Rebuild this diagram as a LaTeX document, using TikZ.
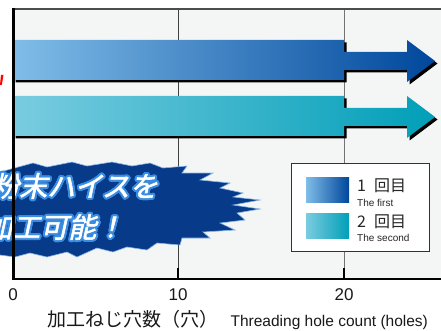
\documentclass[tikz,border=0pt]{standalone}
\usepackage{fontspec}
\setmainfont{Liberation Sans}
\newfontfamily\jpfont{Noto Sans CJK JP}
\newfontfamily\jpboldit[FakeBold=2,FakeSlant=0.22]{Noto Sans CJK JP}
\usepackage[copies]{contour}
\contourlength{2pt}
\contournumber{24}
\usepackage{tikz}
\usetikzlibrary{positioning}
\usepackage{color}

\definecolor{plotbg}{HTML}{F4F6F6}
\definecolor{firstL}{HTML}{80BDE8}
\definecolor{firstM}{HTML}{3F82C4}
\definecolor{firstR}{HTML}{00479C}
\definecolor{secondL}{HTML}{7ACCE0}
\definecolor{secondM}{HTML}{00B6CE}
\definecolor{secondR}{HTML}{009FB8}
\definecolor{burstfill}{HTML}{073A88}
\definecolor{burstrim}{HTML}{3A8CE0}

\begin{document}
\begin{tikzpicture}[x=1pt, y=-1pt,
    gridline/.style={black!75, line width=0.8pt},
    frameline/.style={black, line width=2.2pt},
    tickmark/.style={black, line width=1.6pt},
    numlabel/.style={font=\fontsize{17}{17}\selectfont, text=black!90, inner sep=0pt},
    legendbox/.style={draw=black!80, fill=white, line width=0.8pt, minimum width=138pt, minimum height=88pt, inner sep=0pt},
    legendswatch/.style={minimum width=43pt, minimum height=25pt, inner sep=0pt},
    legendtext/.style={font=\jpfont\fontsize{16}{16}\selectfont, inner sep=0pt, anchor=west, text=black!85},
    legendsub/.style={font=\fontsize{10}{10}\selectfont, inner sep=0pt, anchor=west, text=black!85},
    bursttext/.style={font=\jpboldit\fontsize{28}{28}\selectfont, text=white, inner sep=0pt, anchor=west}]
  \useasboundingbox[fill=white] (0,0) rectangle (441,331);
  \fill[plotbg] (13,8) rectangle (441,279);
  \draw[gridline] (178,8) -- (178,279);
  \draw[gridline, black!55] (344,8) -- (344,279);
  % bars with arrow ends
  \foreach \t/\lc/\mc/\rc in {40/firstL/firstM/firstR, 96/secondL/secondM/secondR} {
    \fill[black, shift={(2.5,2.5)}] (13,\t) -- (344,\t) -- (344,\t+12) -- (407,\t+12) -- (407,\t) -- (435,\t+21) -- (407,\t+42) -- (407,\t+30) -- (344,\t+30) -- (344,\t+40) -- (13,\t+40) -- cycle;
    \shade[left color=\lc, middle color=\mc, right color=\rc] (13,\t) -- (344,\t) -- (344,\t+12) -- (407,\t+12) -- (407,\t) -- (435,\t+21) -- (407,\t+42) -- (407,\t+30) -- (344,\t+30) -- (344,\t+40) -- (13,\t+40) -- cycle;
  }
  \fill[red] (1,75) -- (3.5,75) -- (1.8,85) -- (0,85) -- cycle;
  % starburst
  \draw[fill=burstfill, draw=burstrim!60, line width=0.6pt] (-40,174) -- (0,172) -- (33,163) -- (47,167) -- (72,162) -- (87,166) -- (112,162) -- (132,166) -- (150,163) -- (163,168) -- (187,166) -- (182,173) -- (213,173) -- (200,180) -- (230,183) -- (220,188) -- (243,193) -- (233,197) -- (260,200) -- (233,205) -- (260,209) -- (237,213) -- (245,220) -- (220,223) -- (235,230) -- (203,232) -- (210,238) -- (182,238) -- (180,245) -- (157,243) -- (147,250) -- (127,247) -- (113,252) -- (97,248) -- (77,257) -- (67,252) -- (47,257) -- (30,253) -- (15,257) -- (0,255) -- (-40,255) -- cycle;
  \node[bursttext] (burst1) at (-9,187) {\contour{burstrim}{粉末ハイスを}};
  \node[bursttext] (burst2) at (-16,228) {\contour{burstrim}{加工可能！}};
  % legend
  \node[legendbox] (legend) at (360,207) {};
  \node[legendswatch, left color=firstL, middle color=firstM, right color=firstR] (swatch1) at (327.5,189.5) {};
  \node[legendswatch, left color=secondL, middle color=secondM, right color=secondR] (swatch2) at (327.5,225.5) {};
  \node[legendtext] (first) at (357,186) {1\enspace 回目};
  \node[legendsub] (firstsub) at (357,202.5) {The first};
  \node[legendtext] (second) at (357,222) {2\enspace 回目};
  \node[legendsub] (secondsub) at (357,238) {The second};
  % frame
  \draw[black!70, line width=2.2pt] (12.5,8.8) -- (441,8.8);
  \draw[frameline] (13.5,7.7) -- (13.5,280.3);
  \draw[frameline, line width=2pt] (12.5,279.3) -- (441,279.3);
  \draw[tickmark] (178,268) -- (178,279);
  \draw[tickmark] (344,268) -- (344,279);
  \node[numlabel] (tick0) at (13,295) {0};
  \node[numlabel] (tick10) at (178,295) {10};
  \node[numlabel] (tick20) at (344,295) {20};
  \node[font=\jpfont\fontsize{19}{19}\selectfont, anchor=base west, inner sep=0pt, text=black!90] (xtitle) at (47,326.5) {加工ねじ穴数（穴）};
  \node[font=\fontsize{15.5}{15.5}\selectfont, inner sep=0pt, text=black!90, base right=12pt of xtitle] (xtitleen) {Threading hole count (holes)};
\end{tikzpicture}
\end{document}
